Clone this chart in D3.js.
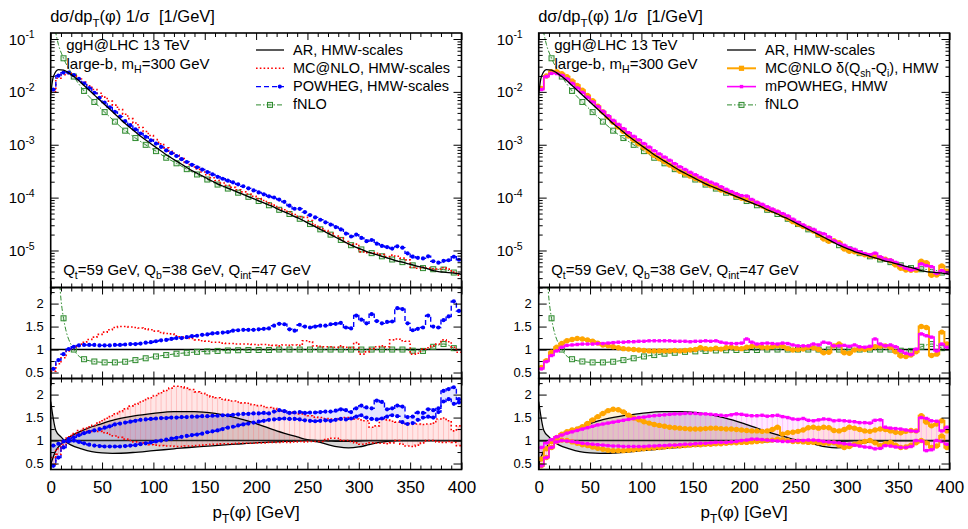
<!DOCTYPE html>
<html><head><meta charset="utf-8">
<script src="https://cdn.jsdelivr.net/npm/d3@7"></script>
<style>body{margin:0;background:#fff} text{font-family:'Liberation Sans',Arial,Helvetica,sans-serif;fill:#000}</style>
</head><body><svg id="c" width="968" height="529"></svg>
<script>
// ---------------- DATA ----------------
const binWidth = 5;                       // GeV, 80 bins from 0 to 400
const xTicks = [0,50,100,150,200,250,300,350,400];
const xTickLabels = ["0","50","100","150","200","250","300","350","400"];
const logTicks = [1e-1,1e-2,1e-3,1e-4,1e-5];
const logTickExp = ["-1","-2","-3","-4","-5"];
const ratioTicks = [0.5,1,1.5,2];
const ratioTickLabels = ["0.5","1","1.5","2"];

// AR central prediction, log10(dσ/dpT 1/σ) at bin centres 2.5 ... 397.5 GeV
const arAtZero = -2.05, arAt400 = -5.45;
const arLog10 = [-1.72,-1.58,-1.59,-1.64,-1.71,-1.79,-1.88,-1.97,-2.06,-2.15,
 -2.24,-2.33,-2.42,-2.51,-2.60,-2.68,-2.76,-2.84,-2.91,-2.98,
 -3.05,-3.12,-3.19,-3.25,-3.31,-3.37,-3.43,-3.49,-3.54,-3.59,
 -3.64,-3.69,-3.74,-3.78,-3.82,-3.86,-3.90,-3.94,-3.98,-4.02,
 -4.06,-4.10,-4.14,-4.18,-4.23,-4.27,-4.31,-4.36,-4.40,-4.45,
 -4.50,-4.55,-4.60,-4.65,-4.70,-4.75,-4.80,-4.85,-4.90,-4.94,
 -4.98,-5.02,-5.05,-5.08,-5.11,-5.14,-5.17,-5.20,-5.22,-5.25,
 -5.27,-5.30,-5.32,-5.35,-5.38,-5.40,-5.41,-5.42,-5.43,-5.44];

// AR scale-variation band (ratio to AR central)
const arBandX = [0,5,10,15,20,30,40,50,60,80,100,120,140,160,180,200,220,240,250,260,270,280,290,300,310,320,340,360,380,400];
const arBandA = [1.85,1.22,1.08,0.97,0.90,0.82,0.76,0.73,0.72,0.74,0.78,0.82,0.86,0.89,0.92,0.95,0.97,0.99,1.00,0.97,0.91,0.86,0.84,0.86,0.91,0.96,1.00,1.00,1.00,1.00];
const arBandB = [0.48,0.78,0.92,1.03,1.10,1.21,1.30,1.37,1.44,1.53,1.59,1.63,1.63,1.59,1.50,1.37,1.21,1.08,1.02,1.00,0.99,0.98,0.98,0.99,1.00,1.00,1.00,1.00,1.00,1.00];

// fNLO / AR
const fnloX = [2.5,7.5,12.5,22.5,32.5,42.5,52.5,62.5,72.5,82.5,92.5,102.5,112.5,122.5,132.5,142.5,152.5,162.5,172.5,182.5,192.5,
 202.5,212.5,222.5,232.5,242.5,252.5,262.5,272.5,282.5,292.5,302.5,312.5,322.5,332.5,342.5,352.5,362.5,372.5,382.5,392.5];
const fnloRatio = [12,3.0,1.68,1.0,0.79,0.74,0.72,0.72,0.735,0.77,0.81,0.85,0.88,0.91,0.93,0.95,0.96,0.97,0.98,0.985,0.99,
 0.99,0.99,1.0,1.0,1.0,1.0,1.0,1.0,1.0,1.0,1.0,1.0,1.0,1.0,1.0,0.975,0.97,1.06,1.12,1.03];

// MC@NLO, HMW-scales / AR (central, lower, upper)
const mcRatio = [0.53,0.69,0.82,0.97,1.03,1.08,1.16,1.22,1.27,1.33,
 1.38,1.43,1.48,1.50,1.50,1.49,1.48,1.47,1.45,1.43,
 1.40,1.37,1.35,1.34,1.30,1.28,1.25,1.24,1.21,1.19,
 1.18,1.16,1.16,1.14,1.13,1.13,1.12,1.12,1.12,1.11,
 1.10,1.11,1.10,1.09,1.08,1.10,1.09,1.10,1.09,1.19,
 1.17,1.08,1.07,1.06,1.06,1.05,1.08,1.05,1.04,1.15,
 0.90,0.95,1.02,1.06,1.08,1.06,1.21,1.23,1.19,1.18,
 0.90,0.92,1.01,1.04,1.08,1.12,1.21,1.17,1.05,0.94];
const mcLo = [0.49,0.70,0.90,1.03,1.10,1.15,1.18,1.20,1.21,1.20,
 1.17,1.13,1.10,1.07,1.03,1.00,0.97,0.95,0.93,0.91,
 0.90,0.89,0.88,0.88,0.87,0.87,0.88,0.88,0.89,0.90,
 0.91,0.92,0.92,0.93,0.93,0.93,0.94,0.94,0.94,0.94,
 0.95,0.95,0.96,0.96,0.96,0.97,0.96,0.97,0.98,0.97,
 0.98,0.98,0.98,1.02,1.05,1.05,1.01,1.00,0.98,0.95,
 0.92,0.93,0.95,0.94,0.94,0.93,0.95,1.00,0.92,0.88,
 0.87,0.90,0.95,1.00,1.00,0.97,0.96,0.98,0.96,0.89];
const mcHi = [0.63,0.82,0.98,1.08,1.15,1.22,1.26,1.30,1.33,1.40,
 1.46,1.52,1.58,1.63,1.69,1.75,1.79,1.84,1.89,1.93,
 1.98,2.04,2.09,2.14,2.18,2.17,2.14,2.11,2.06,2.03,
 1.99,1.95,1.93,1.90,1.88,1.86,1.84,1.82,1.81,1.78,
 1.76,1.74,1.72,1.70,1.67,1.64,1.62,1.60,1.58,1.56,
 1.54,1.51,1.50,1.48,1.47,1.46,1.48,1.50,1.49,1.47,
 1.45,1.43,1.29,1.32,1.47,1.45,1.42,1.40,1.38,1.37,
 1.36,1.36,1.35,1.36,1.38,1.47,1.49,1.43,1.21,1.32];

// POWHEG, HMW-scales / AR
const powRatio = [0.58,0.77,0.90,1.01,1.06,1.09,1.10,1.10,1.10,1.09,
 1.09,1.09,1.10,1.10,1.11,1.12,1.12,1.13,1.15,1.16,
 1.18,1.20,1.21,1.23,1.25,1.25,1.27,1.29,1.30,1.32,
 1.33,1.35,1.36,1.37,1.38,1.41,1.42,1.43,1.43,1.43,
 1.44,1.45,1.46,1.52,1.56,1.55,1.44,1.41,1.54,1.50,
 1.48,1.50,1.52,1.52,1.55,1.56,1.58,1.48,1.46,1.74,
 1.65,1.57,1.77,1.62,1.57,1.60,1.61,1.90,1.88,1.57,
 1.42,1.45,1.48,1.74,1.50,1.48,1.64,1.72,2.05,1.84];
const powLo = [0.45,0.63,0.85,0.98,1.00,0.97,0.94,0.91,0.89,0.88,
 0.87,0.87,0.87,0.87,0.88,0.89,0.90,0.92,0.94,0.96,
 0.98,1.00,1.02,1.04,1.06,1.08,1.10,1.12,1.13,1.15,
 1.18,1.20,1.22,1.25,1.28,1.30,1.33,1.35,1.37,1.39,
 1.41,1.43,1.45,1.46,1.47,1.48,1.47,1.47,1.46,1.44,
 1.43,1.42,1.43,1.44,1.43,1.45,1.47,1.46,1.48,1.52,
 1.55,1.50,1.47,1.46,1.48,1.52,1.55,1.53,1.40,1.36,
 1.38,1.45,1.50,1.52,1.50,1.62,1.85,1.90,1.80,1.83];
const powHi = [0.89,0.93,0.98,1.03,1.07,1.12,1.16,1.19,1.22,1.25,
 1.28,1.31,1.35,1.37,1.39,1.41,1.43,1.45,1.46,1.47,
 1.48,1.49,1.49,1.50,1.50,1.51,1.51,1.52,1.52,1.53,
 1.53,1.54,1.54,1.55,1.55,1.56,1.57,1.58,1.58,1.59,
 1.59,1.60,1.59,1.63,1.66,1.64,1.60,1.61,1.62,1.60,
 1.61,1.61,1.62,1.63,1.63,1.65,1.68,1.66,1.62,1.70,
 1.76,1.72,1.70,1.87,1.84,1.68,1.70,1.76,1.74,1.51,
 1.52,1.61,1.60,1.68,1.66,1.70,2.08,2.12,2.16,1.90];

// MC@NLO δ(Qsh-Qi), HMW / AR
const mcdRatio = [0.61,0.76,0.94,1.05,1.13,1.19,1.22,1.24,1.23,1.21,
 1.18,1.14,1.10,1.08,1.06,1.04,1.02,1.01,1.00,0.99,
 0.98,0.97,0.97,0.97,0.97,0.97,0.98,0.97,0.98,0.99,
 1.00,1.04,1.02,1.01,1.03,1.01,1.04,1.05,1.03,1.02,
 1.05,1.07,1.08,1.05,1.04,1.06,1.08,1.07,1.02,0.99,
 1.00,1.01,1.05,1.04,1.00,0.93,0.94,1.08,1.12,0.93,
 0.92,0.99,1.01,1.00,1.03,1.06,1.07,1.08,1.05,0.95,
 0.86,0.85,0.88,0.95,1.50,1.48,0.87,0.90,1.38,1.12];
const mcdLo = [0.45,0.63,0.85,0.98,1.01,1.00,0.97,0.94,0.91,0.89,
 0.86,0.83,0.81,0.79,0.78,0.78,0.78,0.79,0.80,0.81,
 0.82,0.83,0.84,0.85,0.86,0.87,0.88,0.88,0.89,0.90,
 0.91,0.91,0.92,0.92,0.93,0.93,0.94,0.95,0.95,0.96,
 0.96,0.97,0.98,0.99,1.00,1.01,1.03,1.02,1.00,0.98,
 0.98,0.97,0.96,0.96,0.95,0.94,0.94,0.95,0.90,0.85,
 0.87,0.92,0.95,0.98,1.00,0.95,0.89,0.93,0.96,0.90,
 0.85,0.86,0.90,0.95,1.00,0.95,0.85,0.88,1.10,0.85];
const mcdHi = [0.60,0.82,0.98,1.07,1.14,1.19,1.23,1.25,1.30,1.37,
 1.45,1.52,1.59,1.65,1.68,1.67,1.62,1.55,1.49,1.45,
 1.41,1.38,1.35,1.33,1.31,1.29,1.28,1.27,1.26,1.25,
 1.25,1.25,1.26,1.27,1.27,1.26,1.25,1.25,1.24,1.23,
 1.22,1.21,1.21,1.20,1.21,1.24,1.29,1.14,1.17,1.18,
 1.20,1.23,1.28,1.29,1.27,1.29,1.28,1.22,1.21,1.24,
 1.29,1.27,1.24,1.21,1.20,1.23,1.25,1.24,1.21,1.18,
 1.17,1.20,1.22,1.21,1.54,1.40,1.32,1.36,1.43,1.21];

// mPOWHEG, HMW / AR
const mpowRatio = [0.58,0.74,0.87,0.97,1.05,1.09,1.10,1.11,1.12,1.12,
 1.12,1.13,1.13,1.14,1.15,1.16,1.16,1.17,1.17,1.18,
 1.18,1.19,1.19,1.19,1.19,1.19,1.18,1.18,1.18,1.17,
 1.18,1.18,1.19,1.18,1.19,1.16,1.14,1.13,1.13,1.14,
 1.23,1.16,1.12,1.13,1.14,1.13,1.12,1.14,1.13,1.10,
 1.08,1.08,1.08,1.12,1.10,1.16,1.14,1.08,1.08,1.09,
 1.07,1.10,1.06,1.05,1.07,1.23,1.12,1.08,1.10,1.06,
 0.97,0.92,0.89,1.01,1.34,1.30,1.27,0.97,1.12,1.05];
const mpowLo = [0.45,0.63,0.85,0.97,1.00,0.99,0.98,0.96,0.94,0.93,
 0.92,0.91,0.90,0.89,0.88,0.88,0.87,0.87,0.87,0.87,
 0.87,0.88,0.88,0.89,0.89,0.90,0.90,0.91,0.92,0.92,
 0.93,0.94,0.94,0.95,0.96,0.96,0.96,0.97,0.98,1.00,
 1.01,1.03,1.03,1.02,1.01,1.00,0.99,0.98,0.98,0.99,
 1.00,1.00,1.01,1.01,1.00,0.98,0.97,0.96,0.95,0.93,
 0.92,0.90,0.88,0.86,0.85,0.82,0.83,0.89,0.88,0.86,
 0.85,0.85,0.87,1.00,0.99,0.78,0.80,1.00,0.98,0.92];
const mpowHi = [0.85,0.95,1.02,1.08,1.12,1.16,1.19,1.22,1.25,1.28,
 1.31,1.34,1.36,1.38,1.40,1.42,1.44,1.46,1.48,1.50,
 1.51,1.53,1.54,1.55,1.56,1.57,1.58,1.58,1.59,1.59,
 1.59,1.58,1.58,1.57,1.56,1.55,1.54,1.56,1.58,1.57,
 1.55,1.54,1.54,1.55,1.53,1.54,1.55,1.52,1.50,1.47,
 1.46,1.48,1.44,1.43,1.45,1.47,1.46,1.43,1.44,1.43,
 1.42,1.41,1.39,1.39,1.38,1.44,1.45,1.29,1.27,1.26,
 1.25,1.23,1.21,1.20,1.50,1.48,1.43,1.42,1.21,1.29];

// ---------------- STYLES ----------------
const ST = {
  ar:   {stroke:"#000", width:1.3},
  mc:   {stroke:"#ff0000", width:1.6, dash:"1.6,2.2", fill:"rgba(255,60,60,0.13)", hatch:"rgba(255,110,110,0.35)"},
  pow:  {stroke:"#0000ff", width:1.4, dash:"5,3", marker:"circle", mr:2.1, fill:"rgba(70,70,255,0.14)"},
  mcd:  {stroke:"#ffa500", width:2.0, marker:"circle", mr:2.7, fill:"rgba(255,190,60,0.18)"},
  mpow: {stroke:"#ff00ff", width:1.6, marker:"square", mr:1.7, fill:"rgba(255,110,255,0.14)", hatch:"rgba(255,80,255,0.30)"},
  fnlo: {stroke:"#2e8b2e", width:1.0, dash:"5,2,1.5,2"}
};

// ---------------- LAYOUT ----------------
const svg = d3.select("#c");
const binLo = arLog10.map((_,k)=>k*binWidth);
const arVal = arLog10.map(v=>Math.pow(10,v));
const P = {main:[33,287.5], r1:[287.5,378.5], r2:[378.5,469.5]};
const yMain = d3.scaleLog().domain([Math.pow(10,-5.70), Math.pow(10,-0.8865)]).range([P.main[1],P.main[0]]);
const yR1 = d3.scaleLinear().domain([0.37,2.35]).range([P.r1[1],P.r1[0]]);
const yR2 = d3.scaleLinear().domain([0.37,2.35]).range([P.r2[1],P.r2[0]]);

function rich(g, x, y, parts, size, anchor){
  const t = g.append("text").attr("x",x).attr("y",y).attr("font-size",size).attr("text-anchor",anchor||"start");
  let cur = 0;
  parts.forEach(([s,m])=>{
    const off = m==="sub" ? size*0.28 : m==="sup" ? -size*0.42 : 0;
    t.append("tspan").attr("dy", off-cur).attr("font-size", m ? size*0.7 : size).text(s);
    cur = off;
  });
  return t;
}
function stepPts(vals, x, y){
  const pts=[]; vals.forEach((v,k)=>{pts.push([x(binLo[k]),y(v)]); pts.push([x(binLo[k]+binWidth),y(v)]);}); return pts;
}
function drawMarkers(g, pts, st){
  if(!st.marker) return;
  if(st.marker==="circle"){
    g.selectAll(null).data(pts).enter().append("circle").attr("cx",d=>d[0]).attr("cy",d=>d[1]).attr("r",st.mr).attr("fill",st.stroke);
  } else {
    g.selectAll(null).data(pts).enter().append("rect").attr("x",d=>d[0]-st.mr).attr("y",d=>d[1]-st.mr)
      .attr("width",2*st.mr).attr("height",2*st.mr).attr("fill",st.stroke);
  }
}
function drawHist(g, vals, x, y, st){
  g.append("path").attr("d", d3.line()(stepPts(vals,x,y))).attr("fill","none").attr("stroke",st.stroke)
    .attr("stroke-width",st.width).attr("stroke-dasharray",st.dash||null).attr("stroke-linejoin","miter");
  drawMarkers(g, vals.map((v,k)=>[x(binLo[k]+binWidth/2), y(v)]), st);
}
function drawBand(g, lo, hi, x, y, st){
  const pts=[]; lo.forEach((v,k)=>{pts.push([x(binLo[k]),y(v),y(hi[k])]); pts.push([x(binLo[k]+binWidth),y(v),y(hi[k])]);});
  g.append("path").attr("d", d3.area().x(d=>d[0]).y0(d=>d[1]).y1(d=>d[2])(pts)).attr("fill",st.fill).attr("stroke","none");
  if(st.hatch){
    g.selectAll(null).data(lo).enter().append("line")
      .attr("x1",(d,k)=>x(binLo[k]+binWidth/2)).attr("x2",(d,k)=>x(binLo[k]+binWidth/2))
      .attr("y1",d=>y(d)).attr("y2",(d,k)=>y(hi[k])).attr("stroke",st.hatch).attr("stroke-width",0.9);
  }
}
function drawFnlo(g, x, y, main){
  const pts = fnloX.map((px,i)=>{
    const k = Math.round((px-binWidth/2)/binWidth);
    return [x(px), y(main ? arVal[k]*fnloRatio[i] : fnloRatio[i])];
  });
  g.append("path").attr("d", d3.line().curve(d3.curveMonotoneX)(pts)).attr("fill","none")
    .attr("stroke",ST.fnlo.stroke).attr("stroke-width",ST.fnlo.width).attr("stroke-dasharray",ST.fnlo.dash);
  g.selectAll(null).data(pts.filter((d,i)=>fnloX[i]>=12)).enter().append("rect")
    .attr("x",d=>d[0]-2.5).attr("y",d=>d[1]-2.5).attr("width",5).attr("height",5)
    .attr("fill","rgba(46,139,46,0.12)").attr("stroke",ST.fnlo.stroke).attr("stroke-width",1);
}
function tickAxis(g, fn, scale, values, size, tx, ty){
  const a = fn(scale).tickValues(values).tickSize(size).tickFormat("");
  const s = g.append("g").attr("transform",`translate(${tx},${ty})`).call(a);
  s.select(".domain").remove();
  s.selectAll("line").attr("stroke","#000").attr("stroke-width",1);
}

const xMinor = d3.range(0,401,10).filter(v=>v%50!==0);
const logMinor = [];
[-6,-5,-4,-3,-2,-1].forEach(n=>{for(let m=2;m<=9;m++){const v=m*Math.pow(10,n); if(v>yMain.domain()[0]&&v<yMain.domain()[1]) logMinor.push(v);}});
const ratioMinor = [0.75,1.25,1.75,2.25];

const sides = [
  {x0:50.7, x1:461.5, hist:[["mc",mcRatio],["pow",powRatio]], bands:[["mc",mcLo,mcHi],["pow",powLo,powHi]],
   legLine:[256,284], legText:293, legend:[
     ["ar",[["AR, HMW-scales"]]],["mc",[["MC@NLO, HMW-scales"]]],["pow",[["POWHEG, HMW-scales"]]],["fnlo",[["fNLO"]]]]},
  {x0:538.7, x1:949.5, hist:[["mcd",mcdRatio],["mpow",mpowRatio]], bands:[["mcd",mcdLo,mcdHi],["mpow",mpowLo,mpowHi]],
   legLine:[727,756], legText:765, legend:[
     ["ar",[["AR, HMW-scales"]]],["mcd",[["MC@NLO δ(Q"],["sh","sub"],["-Q"],["i","sub"],["), HMW"]]],["mpow",[["mPOWHEG, HMW"]]],["fnlo",[["fNLO"]]]]}
];

sides.forEach((cfg,si)=>{
  const x = d3.scaleLinear().domain([0,400]).range([cfg.x0,cfg.x1]);
  const root = svg.append("g");
  const clip = {};
  Object.keys(P).forEach(key=>{
    const id = `clip${si}${key}`;
    svg.append("clipPath").attr("id",id).append("rect").attr("x",cfg.x0).attr("y",P[key][0])
      .attr("width",cfg.x1-cfg.x0).attr("height",P[key][1]-P[key][0]);
    clip[key] = root.append("g").attr("clip-path",`url(#${id})`);
  });

  // ---- main panel ----
  const gm = clip.main;
  drawFnlo(gm, x, yMain, true);
  cfg.hist.forEach(([s,r])=> drawHist(gm, r.map((v,k)=>v*arVal[k]), x, yMain, ST[s]));
  const arPts = [[x(0), yMain(Math.pow(10,arAtZero))]].concat(arVal.map((v,k)=>[x(binLo[k]+binWidth/2), yMain(v)])).concat([[x(400), yMain(Math.pow(10,arAt400))]]);
  gm.append("path").attr("d", d3.line().curve(d3.curveMonotoneX)(arPts)).attr("fill","none").attr("stroke","#000").attr("stroke-width",ST.ar.width);

  // ---- ratio panel 1 ----
  const g1 = clip.r1;
  g1.append("line").attr("x1",cfg.x0).attr("x2",cfg.x1).attr("y1",yR1(1)).attr("y2",yR1(1)).attr("stroke","#000").attr("stroke-width",1.6);
  drawFnlo(g1, x, yR1, false);
  cfg.hist.forEach(([s,r])=> drawHist(g1, r, x, yR1, ST[s]));

  // ---- ratio panel 2 ----
  const g2 = clip.r2;
  const arArea = d3.area().curve(d3.curveMonotoneX).x((d,i)=>x(arBandX[i])).y0((d,i)=>yR2(arBandA[i])).y1((d,i)=>yR2(arBandB[i]));
  g2.append("path").attr("d", arArea(arBandX)).attr("fill","rgba(0,0,0,0.16)").attr("stroke","none");
  cfg.bands.forEach(([s,lo,hi])=> drawBand(g2, lo, hi, x, yR2, ST[s]));
  [arBandA, arBandB].forEach(arr=>{
    g2.append("path").attr("d", d3.line().curve(d3.curveMonotoneX)(arBandX.map((v,i)=>[x(v), yR2(arr[i])])))
      .attr("fill","none").attr("stroke","#000").attr("stroke-width",1.3);
  });
  g2.append("line").attr("x1",cfg.x0).attr("x2",cfg.x1).attr("y1",yR2(1)).attr("y2",yR2(1)).attr("stroke","#222").attr("stroke-width",1.6);
  cfg.bands.forEach(([s,lo,hi])=>{ drawHist(g2, lo, x, yR2, ST[s]); drawHist(g2, hi, x, yR2, ST[s]); });

  // ---- frames and ticks ----
  const axes = root.append("g");
  [["main",yMain,logTicks,logMinor],["r1",yR1,ratioTicks,ratioMinor],["r2",yR2,ratioTicks,ratioMinor]].forEach(([key,y,maj,min])=>{
    const [t,b] = P[key];
    tickAxis(axes, d3.axisBottom, x, xTicks, -7, 0, b);
    tickAxis(axes, d3.axisBottom, x, xMinor, -4, 0, b);
    tickAxis(axes, d3.axisTop, x, xTicks, -7, 0, t);
    tickAxis(axes, d3.axisTop, x, xMinor, -4, 0, t);
    tickAxis(axes, d3.axisLeft, y, maj, -8, cfg.x0, 0);
    tickAxis(axes, d3.axisLeft, y, min, -4, cfg.x0, 0);
    tickAxis(axes, d3.axisRight, y, maj, -8, cfg.x1, 0);
    tickAxis(axes, d3.axisRight, y, min, -4, cfg.x1, 0);
    axes.append("rect").attr("x",cfg.x0).attr("y",t).attr("width",cfg.x1-cfg.x0).attr("height",b-t)
      .attr("fill","none").attr("stroke","#000").attr("stroke-width",1.6);
  });

  // ---- labels ----
  const lab = root.append("g");
  logTicks.forEach((v,i)=> rich(lab, cfg.x0-42, yMain(v)+5.5, [["10"],[logTickExp[i],"sup"]], 15));
  [yR1,yR2].forEach(y=>{
    const a = d3.axisLeft(y).tickValues(ratioTicks).tickSize(0).tickPadding(7).tickFormat((d,i)=>ratioTickLabels[i]);
    const s = lab.append("g").attr("transform",`translate(${cfg.x0},0)`).call(a);
    s.select(".domain").remove();
    s.selectAll("text").attr("font-size",13).attr("font-family","'Liberation Sans',Arial,sans-serif").attr("fill","#000");
  });
  const ax = d3.axisBottom(x).tickValues(xTicks).tickSize(0).tickPadding(11).tickFormat((d,i)=>xTickLabels[i]);
  const sx = lab.append("g").attr("transform",`translate(0,${P.r2[1]})`).call(ax);
  sx.select(".domain").remove();
  sx.selectAll("text").attr("font-size",17).attr("font-family","'Liberation Sans',Arial,sans-serif").attr("fill","#000");
  rich(lab, (cfg.x0+cfg.x1)/2, 518, [["p"],["T","sub"],["(φ) [GeV]"]], 17, "middle");
  rich(lab, cfg.x0-0.5, 22, [["dσ/dp"],["T","sub"],["(φ) 1/σ\u00a0\u00a0[1/GeV]"]], 16.5);
  rich(lab, cfg.x0+15.5, 49.5, [["ggH@LHC 13 TeV"]], 15);
  rich(lab, cfg.x0+15.8, 68.5, [["large-b, m"],["H","sub"],["=300 GeV"]], 15);
  rich(lab, cfg.x0+12.5, 274.5, [["Q"],["t","sub"],["=59 GeV, Q"],["b","sub"],["=38 GeV, Q"],["int","sub"],["=47 GeV"]], 15);

  // ---- legend ----
  const lg = root.append("g");
  cfg.legend.forEach(([s,parts],i)=>{
    const base = 54.5 + i*18.3, ly = base - 4.5;
    const st = s==="ar" ? {stroke:"#000",width:1.3} : ST[s];
    lg.append("line").attr("x1",cfg.legLine[0]).attr("x2",cfg.legLine[1]).attr("y1",ly).attr("y2",ly)
      .attr("stroke",st.stroke).attr("stroke-width",st.width).attr("stroke-dasharray",st.dash||null);
    const mx = s==="pow" ? cfg.legLine[0]+0.85*(cfg.legLine[1]-cfg.legLine[0]) : (cfg.legLine[0]+cfg.legLine[1])/2;
    if(s==="pow") drawMarkers(lg, [[mx,ly]], st);
    if(s==="mcd") drawMarkers(lg, [[mx,ly]], {stroke:st.stroke, marker:"square", mr:2.6});
    if(s==="mpow") drawMarkers(lg, [[mx,ly]], st);
    if(s==="fnlo") lg.append("rect").attr("x",mx-2.5).attr("y",ly-2.5).attr("width",5).attr("height",5)
      .attr("fill","rgba(46,139,46,0.12)").attr("stroke",ST.fnlo.stroke);
    rich(lg, cfg.legText, base, parts, 14.5);
  });
});
</script>
</body></html>
